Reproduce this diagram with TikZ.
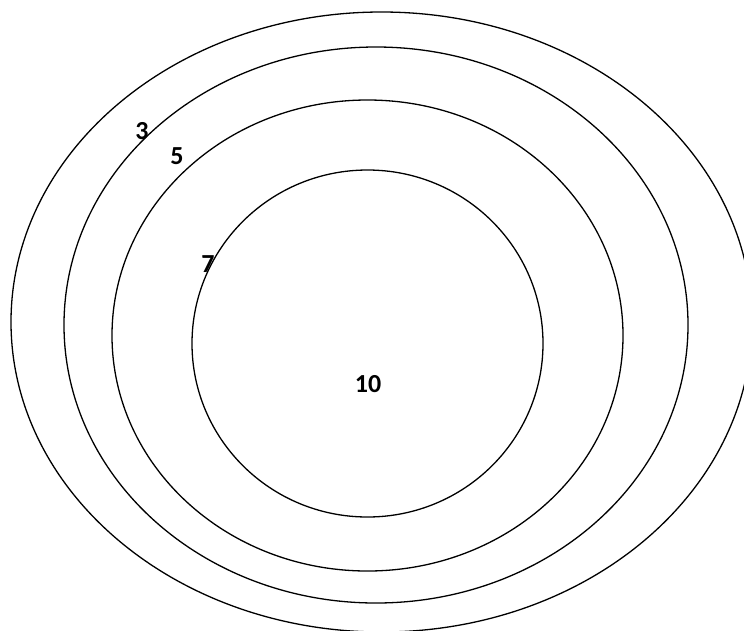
\documentclass[tikz,border=0pt]{standalone}
\usepackage{fontspec}
\setmainfont{Carlito}
\begin{document}
\begin{tikzpicture}[x=1pt,y=-1pt,
  ring/.style={draw=black,line width=1.3pt},
  lbl/.style={font=\fontsize{26}{30}\selectfont\bfseries,inner sep=0pt}]
\useasboundingbox (0,0) rectangle (744,630);
\begin{scope}
\clip (0,0) rectangle (744,630);
\draw[ring] (381.5,322) ellipse [x radius=370.5, y radius=310];
\draw[ring] (376,325) ellipse [x radius=312, y radius=278];
\draw[ring] (367.5,335.5) ellipse [x radius=255.5, y radius=235.5];
\draw[ring] (367.5,343.5) ellipse [x radius=175.5, y radius=173.5];
\end{scope}
\node[lbl] (l3) at (142,131) {3};
\node[lbl] (l5) at (177,156) {5};
\node[lbl] (l7) at (208,264) {7};
\node[lbl] (l10) at (368,384) {10};
\end{tikzpicture}
\end{document}
